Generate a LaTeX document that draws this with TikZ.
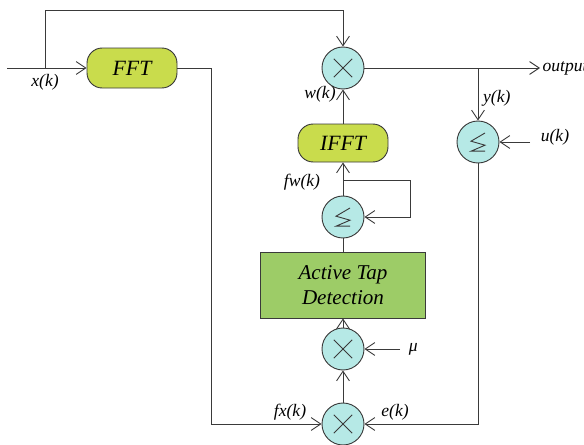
\documentclass[tikz,border=0pt]{standalone}
\usepackage{fontspec}
\setmainfont{Liberation Serif}
\usetikzlibrary{arrows.meta}

\definecolor{fftgreen}{HTML}{C9DC4C}
\definecolor{atdgreen}{HTML}{9DCC67}
\definecolor{opcyan}{HTML}{B6E9E6}
\definecolor{linegray}{HTML}{3A3A3A}

\tikzset{
  op/.style={circle, draw=linegray, fill=opcyan, minimum size=1.05cm, inner sep=0pt},
  mult/.style={op, path picture={
      \draw[linegray, shift={(path picture bounding box.center)}]
        (-0.23,-0.23) -- (0.23,0.23) (-0.23,0.23) -- (0.23,-0.23);}},
  adder/.style={op, path picture={
      \draw[linegray, shift={(path picture bounding box.center)}]
        (0.175,0.225) -- (-0.175,0.02) -- (0.175,-0.08) -- (-0.175,-0.23) -- (0.175,-0.23);}},
  fftbox/.style={rounded corners=0.38cm, draw=linegray, fill=fftgreen,
      minimum width=2.25cm, minimum height=1cm, font=\fontsize{15.5}{18}\selectfont\itshape},
  atdbox/.style={draw=linegray, fill=atdgreen, minimum width=4.125cm, minimum height=1.65cm,
      align=center, font=\fontsize{15}{18}\selectfont\itshape},
  lbl/.style={font=\fontsize{12.5}{14}\selectfont\itshape},
}

\begin{document}
\begin{tikzpicture}[line width=0.65pt, draw=linegray,
    >={Straight Barb[length=2.4mm,width=3.2mm]}]
  \useasboundingbox (0,0) rectangle (14.6,11.1);

  % blocks
  \node[fftbox] (fft) at (3.3,9.4) {FFT};
  \node[fftbox, minimum height=0.95cm] (ifft) at (8.575,7.525) {IFFT};
  \node[atdbox] (atd) at (8.575,3.975) {Active Tap\\Detection};

  % operators
  \node[mult] (m1) at (8.575,9.4) {};
  \node[adder] (s1) at (11.95,7.55) {};
  \node[adder] (s2) at (8.575,5.675) {};
  \node[mult] (m2) at (8.575,2.375) {};
  \node[mult] (m3) at (8.575,0.5) {};

  % free ends and corners
  \coordinate (xin) at (0.175,9.4);
  \coordinate (xsplit) at (1.125,9.4);
  \coordinate (fxcorner) at (5.275,0.5);
  \coordinate (outend) at (13.5,9.4);
  \coordinate (ysplit) at (11.95,9.4);
  \coordinate (uin) at (13.25,7.55);
  \coordinate (muin) at (10,2.375);
  \coordinate (fwsplit) at (8.575,6.6);
  \coordinate (fbcorner) at (10.25,6.6);

  % connectors
  \draw[->] (xin) -- (fft);
  \draw[->] (xsplit) -- ++(0,1.45) -| (m1.north);
  \draw[->] (fft.east) -| (fxcorner) -- (m3);
  \draw[->] (m1) -- (outend) node[right, lbl, inner sep=1.5pt] {output};
  \draw[->] (ysplit) -- (s1);
  \draw[->] (uin) -- (s1);
  \draw[->] (s1.south) |- (m3.east);
  \draw[->] (m3) -- (m2);
  \draw[->] (muin) -- (m2);
  \draw[->] (m2) -- (atd);
  \draw (atd) -- (s2);
  \draw[->] (s2) -- (ifft);
  \draw[->] (fwsplit) -- (fbcorner) |- (s2.east);
  \draw[->] (ifft) -- (m1);

  % labels
  \node[lbl] at (1.125,9.05) {x(k)};
  \node[lbl] at (8.0,8.75) {w(k)};
  \node[lbl] at (7.55,6.55) {fw(k)};
  \node[lbl] at (12.42,8.65) {y(k)};
  \node[lbl] at (13.875,7.675) {u(k)};
  \node[lbl] at (7.25,0.8) {fx(k)};
  \node[lbl] at (9.875,0.8) {e(k)};
  \node[lbl] at (10.33,2.36) {μ};
\end{tikzpicture}
\end{document}
